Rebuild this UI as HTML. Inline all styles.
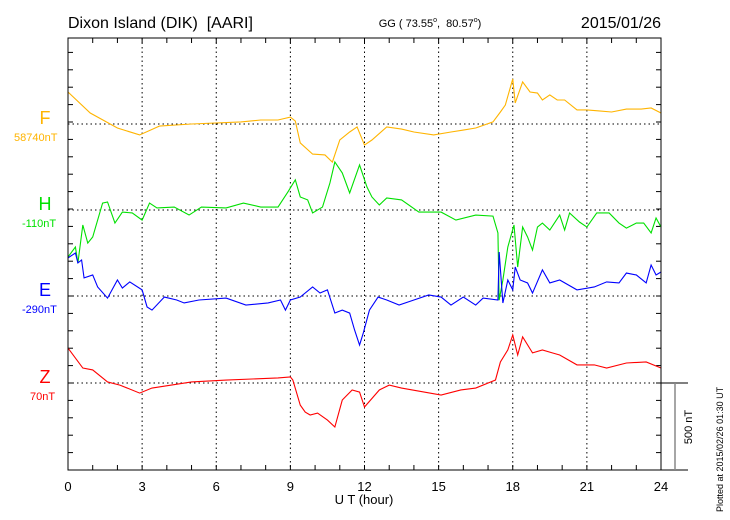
<!DOCTYPE html>
<html><head><meta charset="utf-8"><style>
body{margin:0;background:#fff}
svg{display:block;font-family:"Liberation Sans",sans-serif}
</style></head><body>
<svg id="c" width="730" height="520">
<text x="68" y="28" font-size="16">Dixon Island (DIK)&#160; [AARI]</text>
<text x="430" y="27" font-size="11" text-anchor="middle">GG ( 73.55<tspan font-size="7" dy="-5">o</tspan><tspan dy="5">,&#160; 80.57</tspan><tspan font-size="7" dy="-5">o</tspan><tspan dy="5">)</tspan></text>
<text x="661" y="28" font-size="16" text-anchor="end">2015/01/26</text>
<text x="364" y="504" font-size="13" text-anchor="middle">U T (hour)</text>
<text transform="translate(723,512) rotate(-90)" font-size="9">Plotted at 2015/02/26 01:30 UT</text>
<text transform="translate(692,427) rotate(-90)" font-size="11" text-anchor="middle">500 nT</text>
<g id="g"></g>
</svg>
<script>
const hours=[0,3,6,9,12,15,18,21,24];
const fT=[0,0.9,2.0,2.9,3.7,5,7,7.8,8.5,9.0,9.2,9.4,9.9,10.4,10.7,11.0,11.4,11.7,12.0,12.3,12.9,13.5,14.0,14.8,15.5,16.0,16.5,17.2,17.5,17.7,18.0,18.1,18.4,18.7,19.0,19.2,19.5,19.8,20.1,20.6,21.0,21.5,22,22.6,23.2,23.6,24];
const fV=[184,63,-23,-63,-12,0,12,23,23,40,17,-109,-173,-178,-219,-92,-46,-17,-121,-92,-17,-29,-46,-63,-46,-35,-23,12,69,109,259,121,242,184,178,138,167,138,138,81,81,75,69,86,86,92,63];
const hT=[0,0.3,0.4,0.6,0.8,1.0,1.4,1.6,1.9,2.2,2.6,3.0,3.3,3.6,4.3,4.9,5.4,6.4,7.1,7.8,8.5,8.9,9.2,9.4,9.7,9.9,10.3,10.6,10.8,11.1,11.4,11.8,12.1,12.3,12.6,12.9,13.5,14.2,15.1,15.7,16.5,17.2,17.4,17.45,17.6,17.8,18.05,18.2,18.4,18.6,18.8,19.0,19.2,19.5,19.9,20.1,20.3,20.7,21.0,21.4,21.9,22.3,22.6,23.0,23.3,23.6,23.8,24];
const hV=[-270,-213,-305,-86,-190,-155,40,46,-75,-12,-17,-58,40,12,17,-29,17,12,40,17,17,104,173,75,58,-17,17,155,276,213,98,259,132,75,29,69,58,-12,-12,-58,-29,-35,-132,-518,-403,-213,-86,-328,-98,-155,-230,-98,-75,-115,-29,-115,-17,-69,-98,-17,-17,-75,-104,-75,-75,-132,-46,-98];
const eT=[0,0.3,0.4,0.55,0.65,1.0,1.2,1.6,2.0,2.2,2.5,3.0,3.2,3.4,3.9,4.4,4.7,5.3,6.4,7.2,8.1,8.6,8.8,9.0,9.4,9.9,10.2,10.5,10.8,11.1,11.4,11.6,11.8,11.95,12.2,12.55,12.9,13.4,14.0,14.6,15.1,15.5,16.0,16.5,16.8,17.4,17.45,17.6,17.8,18.0,18.1,18.3,18.6,18.8,19.2,19.5,19.9,20.6,21.3,21.8,22.3,22.6,23.0,23.4,23.6,23.8,24];
const eV=[219,247,190,207,104,121,52,-12,92,46,81,35,-63,-81,-6,-23,-40,-23,-12,-52,-40,-23,-81,-23,-6,52,17,35,-98,-81,-98,-196,-282,-213,-81,-6,-23,-52,-23,6,-6,-52,-6,-52,-12,-23,253,-40,92,35,167,92,75,17,150,75,92,35,52,81,75,132,121,75,178,121,138];
const zT=[0,0.6,1.0,1.6,2.1,2.9,3.4,5.0,6.4,8.5,9.0,9.1,9.4,9.6,9.8,10.1,10.5,10.8,11.1,11.5,11.8,12.0,12.6,13.0,13.5,15.1,15.9,16.5,17.3,17.5,17.8,18.0,18.2,18.4,18.8,19.2,19.6,19.9,20.6,21.3,21.8,22.6,23.4,24];
const zV=[201,86,75,6,-12,-58,-29,6,17,29,35,17,-127,-167,-184,-173,-213,-253,-98,-40,-52,-138,-40,-12,-29,-69,-40,-29,17,121,190,276,161,265,173,190,173,161,104,104,86,115,121,86];
const series=[
 {n:'F',t:fT,v:fV,b:124,c:'#ffb400',lab:'58740nT',lx:14},
 {n:'H',t:hT,v:hV,b:210,c:'#00e000',lab:'-110nT',lx:22},
 {n:'E',t:eT,v:eV,b:296,c:'#0000ff',lab:'-290nT',lx:22},
 {n:'Z',t:zT,v:zV,b:383,c:'#ff0000',lab:'70nT',lx:30}];
const L=68,R=661,T=38,B=470,PX=17.4/100;
const x=h=>L+(R-L)*h/24;
const y=(v,b)=>b-v*PX;
const g=document.getElementById('g');
const NS='http://www.w3.org/2000/svg';
function mk(tag,a){const e=document.createElementNS(NS,tag);for(const k in a)e.setAttribute(k,a[k]);g.appendChild(e);return e;}
hours.slice(1,-1).forEach(h=>{const e=mk('line',{x1:x(h),x2:x(h),y1:T,y2:B,stroke:'#000','stroke-dasharray':'1.5,3','stroke-width':1});

});
series.forEach(s=>{const e=mk('line',{x1:L,x2:R,y1:s.b,y2:s.b,stroke:'#000','stroke-dasharray':'1.5,3','stroke-width':1});

});
for(let h=1;h<24;h++){mk('line',{x1:x(h),x2:x(h),y1:T,y2:T+5,stroke:'#000'});mk('line',{x1:x(h),x2:x(h),y1:B,y2:B-5,stroke:'#000'});}
for(let k=1;k<25;k++){const yy=B-k*17.4;if(yy<=T+1)break;mk('line',{x1:L,x2:L+5,y1:yy,y2:yy,stroke:'#000'});mk('line',{x1:R,x2:R-5,y1:yy,y2:yy,stroke:'#000'});}
hours.forEach(h=>{const e=mk('text',{x:x(h),y:491,'font-size':13,'text-anchor':'middle'});e.textContent=h;

});
series.forEach(s=>{
 const p=mk('polyline',{points:s.t.map((t,i)=>x(t)+','+y(s.v[i],s.b)).join(' '),fill:'none',stroke:s.c,'stroke-width':1.1});
 
 
 const a=mk('text',{x:45,y:s.b,'font-size':18,fill:s.c,'text-anchor':'middle'});a.textContent=s.n;
 
 
 const c=mk('text',{x:s.lx,y:s.b+17,'font-size':11,fill:s.c});c.textContent=s.lab;
 
 
});
const f=mk('rect',{x:L,y:T,width:R-L,height:B-T,fill:'none',stroke:'#000','stroke-width':1});


mk('line',{x1:R,x2:688,y1:383,y2:383,stroke:'#000'});
mk('line',{x1:R,x2:688,y1:B,y2:B,stroke:'#000'});
const sb=mk('line',{x1:675,x2:675,y1:383,y2:B,stroke:'#888','stroke-width':1.5});


</script>
</body></html>
